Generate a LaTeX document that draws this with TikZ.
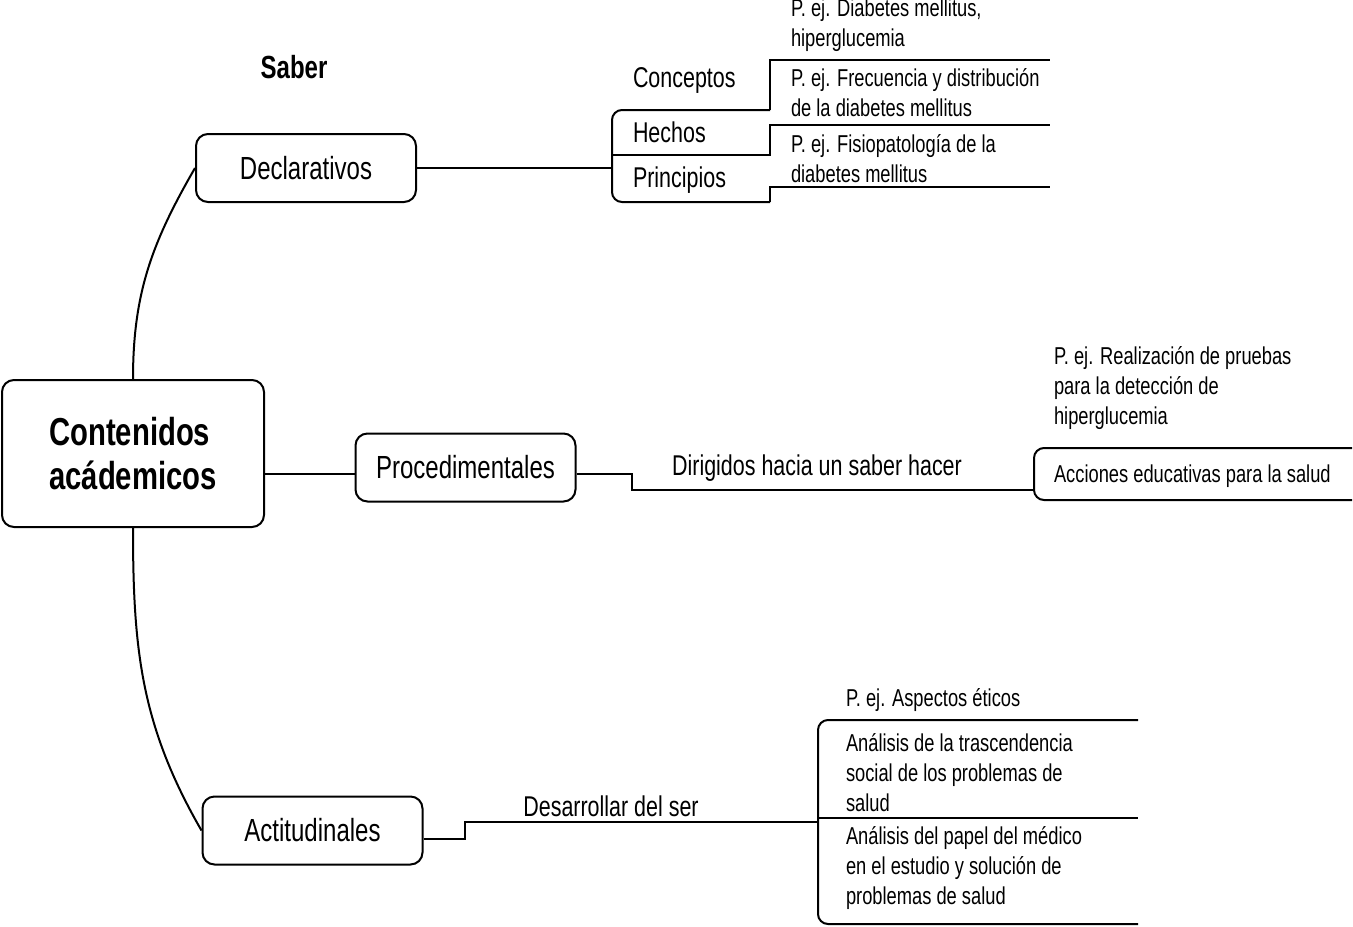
\documentclass[tikz,border=0pt]{standalone}
\usepackage{fontspec}
\setmainfont[FakeStretch=0.75]{Liberation Sans}
\usetikzlibrary{positioning}

\begin{document}
\begin{tikzpicture}[x=0.5pt,y=-0.5pt,line width=1pt,
    box/.style={draw,rounded corners=6pt,inner sep=0pt,align=center},
    midbox/.style={box,minimum width=110pt,minimum height=34pt,font=\fontsize{16}{19}\selectfont},
    lbl/.style={inner sep=0pt,anchor=west,align=left,font=\fontsize{14.3}{17}\selectfont},
    note/.style={inner sep=0pt,anchor=west,align=left,font=\fontsize{12.2}{15}\selectfont}]
    \useasboundingbox (0,0) rectangle (1353,926);
    \node[box,minimum width=131pt,minimum height=73.5pt,align=left,
          font=\bfseries\fontsize{19.5}{22}\selectfont] (cont) at (133,453.5) {Contenidos\\acádemicos};
    \node[midbox] (decl) at (306,168) {Declarativos};
    \node[midbox] (proc) at (465.5,467.5) {Procedimentales};
    \node[midbox] (acti) at (312.5,830.5) {Actitudinales};
    \node[font=\bfseries\fontsize{16}{19}\selectfont,inner sep=0pt] (saber) at (294,67) {Saber};
    \draw (cont.north) to[out=90,in=240] (decl.west);
    \draw (cont.south) to[out=-90,in=120] (acti.west);
    \coordinate (pin) at ([yshift=-3.25pt]proc.west);
    \draw (pin -| cont.east) -- (pin);
    % saber
    \coordinate (dbr) at (612,168);
    \draw (decl.east) -- (dbr);
    \draw[rounded corners=5pt] (770,110) -- (612,110) -- (612,202) -- (770,202);
    \draw (770,110) -- (770,60) -- (1050,60);
    \draw (612,155) -- (770,155) -- (770,125) -- (1050,125);
    \draw (770,202) -- (770,187) -- (1050,187);
    \node[lbl] (conc) at (632,80) {Conceptos};
    \node[lbl] (hech) at (632,132) {Hechos};
    \node[lbl] (prin) at (632,180) {Principios};
    \node[note] (ej1) at (790,25) {P. ej. Diabetes mellitus,\\hiperglucemia};
    \node[note] (ej2) at (790,92.5) {P. ej. Frecuencia y distribución\\de la diabetes mellitus};
    \node[note] (ej3) at (790,158.5) {P. ej. Fisiopatología de la\\diabetes mellitus};
    % saber hacer
    \coordinate (pout) at ([yshift=-3.25pt]proc.east);
    \coordinate (pbr) at (1034,490);
    \draw (pout) -- (pout -| 632,0) |- (pbr);
    \draw[rounded corners=5pt] (1352,448) -- (1034,448) -- (1034,500) -- (1352,500);
    \node[lbl,anchor=center] (dirig) at (817,468) {Dirigidos hacia un saber hacer};
    \node[note] (ej4) at (1053,388) {P. ej. Realización de pruebas\\para la detección de\\hiperglucemia};
    \node[note] (accion) at (1053,476) {Acciones educativas para la salud};
    % ser
    \coordinate (aout) at ([yshift=-4.25pt]acti.east);
    \coordinate (abr) at (818,822);
    \draw (aout) -- (aout -| 465,0) |- (abr);
    \draw[rounded corners=5pt] (1138,720) -- (818,720) -- (818,924) -- (1138,924);
    \draw (818,818) -- (1138,818);
    \node[lbl,anchor=center] (desar) at (611,806) {Desarrollar del ser};
    \node[note] (ej5) at (845,700) {P. ej. Aspectos éticos};
    \node[note] (anal1) at (845,772.5) {Análisis de la trascendencia\\social de los problemas de\\salud};
    \node[note] (anal2) at (845,868) {Análisis del papel del médico\\en el estudio y solución de\\problemas de salud};
\end{tikzpicture}
\end{document}
